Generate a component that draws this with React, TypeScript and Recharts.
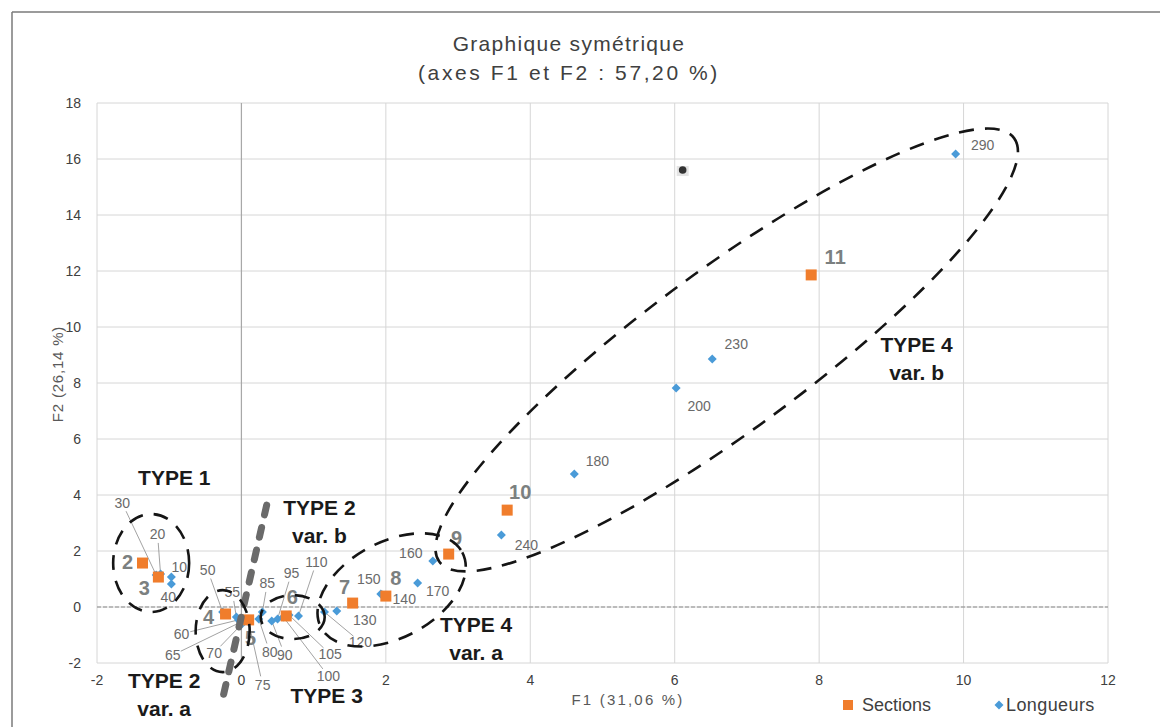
import { ScatterChart, Scatter, XAxis, YAxis, CartesianGrid, ReferenceLine } from "recharts";

// Sections (orange squares)
const sectionNames = ["2", "3", "4", "5", "6", "7", "8", "9", "10", "11"];
const sectionF1 = [-1.37, -1.15, -0.22, 0.1, 0.62, 1.54, 2.0, 2.87, 3.68, 7.89];
const sectionF2 = [1.57, 1.07, -0.25, -0.46, -0.32, 0.14, 0.39, 1.89, 3.46, 11.86];

// Longueurs (blue diamonds)
const lengthNames = [
  "10", "20", "30", "40", "50", "55", "60", "65", "70", "75", "80", "85", "90", "95",
  "100", "105", "110", "120", "130", "140", "150", "160", "170", "180", "200", "230", "240", "290",
];
const lengthF1 = [
  -0.97, -1.12, -1.18, -0.97, -0.26, -0.07, -0.04, -0.01, 0.01, 0.1, 0.24, 0.29, 0.42, 0.5,
  0.58, 0.66, 0.79, 1.15, 1.32, 1.95, 1.93, 2.65, 2.44, 4.61, 6.02, 6.52, 3.6, 9.89,
];
const lengthF2 = [
  1.07, 1.18, 1.14, 0.82, -0.18, -0.36, -0.46, -0.54, -0.6, -0.54, -0.43, -0.18, -0.5, -0.43,
  -0.36, -0.29, -0.32, -0.18, -0.14, 0.43, 0.46, 1.64, 0.86, 4.75, 7.82, 8.86, 2.57, 16.18,
];

const xTicks = [-2, 0, 2, 4, 6, 8, 10, 12];
const yTicks = [-2, 0, 2, 4, 6, 8, 10, 12, 14, 16, 18];

const sections = sectionNames.map((name, i) => ({ name, x: sectionF1[i], y: sectionF2[i] }));
const lengths = lengthNames.map((name, i) => ({ name, x: lengthF1[i], y: lengthF2[i] }));

// label placement (pixel offsets from the point), leader line flag
const sectionLabelPos: Record<string, [number, number]> = {
  "2": [-15, -1], "3": [-14, 11], "4": [-17, 3], "5": [2, 18], "6": [6, -19],
  "7": [-8, -16], "8": [10, -18], "9": [8, -16], "10": [13, -18], "11": [24, -18],
};
const lengthLabelPos: Record<string, [number, number, boolean]> = {
  "10": [8, -10, false], "20": [-3, -40, true], "30": [-34, -72, true], "40": [-3, 13, false],
  "50": [-15, -42, true], "55": [-4, -25, true], "60": [-57, 14, true], "65": [-68, 33, true],
  "70": [-28, 29, true], "75": [14, 63, true], "80": [11, 33, true], "85": [5, -29, true],
  "90": [13, 34, true], "95": [14, -46, true], "100": [45, 59, true], "105": [41, 39, true],
  "110": [18, -54, true], "120": [36, 30, true], "130": [28, 9, false], "140": [22, 4, false],
  "150": [-12, -15, false], "160": [-22, -8, false], "170": [20, 8, false], "180": [23, -13, false],
  "200": [23, 18, false], "230": [24, -15, false], "240": [25, 10, false], "290": [27, -9, false],
};

const FONT = "'Liberation Sans', Arial, sans-serif";
const ORANGE = "#F07D2C";
const BLUE = "#4A9BD8";
const W = 1160;
const H = 727;
const PLOT = { left: 97, top: 103, width: 1011, height: 560 };

const px = (x: number) => PLOT.left + ((x + 2) / 14) * PLOT.width;
const py = (y: number) => PLOT.top + ((18 - y) / 20) * PLOT.height;

function SectionShape(props: any) {
  const { cx, cy, payload } = props;
  const [dx, dy] = sectionLabelPos[payload.name] ?? [10, -10];
  return (
    <g>
      <rect x={cx - 5.5} y={cy - 5.5} width={11} height={11} fill={ORANGE} />
      <text
        x={cx + dx}
        y={cy + dy}
        textAnchor="middle"
        dominantBaseline="central"
        fontSize={20}
        fontWeight={700}
        fill="#7b8080"
        fontFamily={FONT}
      >
        {payload.name}
      </text>
    </g>
  );
}

function LengthShape(props: any) {
  const { cx, cy, payload } = props;
  const [dx, dy, leader] = lengthLabelPos[payload.name] ?? [12, -10, false];
  const lx = cx + dx;
  const ly = cy + dy;
  const d = Math.hypot(dx, dy) || 1;
  const r = 9;
  return (
    <g>
      {leader && (
        <line x1={cx} y1={cy} x2={lx - (dx / d) * r} y2={ly - (dy / d) * r} stroke="#8a8a8a" strokeWidth={0.8} />
      )}
      <path d={`M${cx},${cy - 4.5}L${cx + 4.5},${cy}L${cx},${cy + 4.5}L${cx - 4.5},${cy}Z`} fill={BLUE} />
      <text
        x={lx}
        y={ly}
        textAnchor="middle"
        dominantBaseline="central"
        fontSize={14}
        fill="#6a6a6a"
        fontFamily={FONT}
      >
        {payload.name}
      </text>
    </g>
  );
}

// hand-drawn annotation groups: centre in data units, radii/rotation in px
const groupEllipses = [
  { x: -1.25, y: 1.57, rx: 38, ry: 49, rot: 0 },
  { x: -0.26, y: -0.86, rx: 27, ry: 41, rot: 0 },
  { x: 0.71, y: -0.36, rx: 32, ry: 22, rot: 0 },
  { x: 2.08, y: 0.61, rx: 80, ry: 48, rot: -28 },
  { x: 6.72, y: 9.18, rx: 357, ry: 80, rot: -36.4 },
];

const groupLabels = [
  { x: -0.93, y: 4.61, lines: ["TYPE 1"] },
  { x: 1.08, y: 3.57, lines: ["TYPE 2", "var. b"] },
  { x: -1.07, y: -2.61, lines: ["TYPE 2", "var. a"] },
  { x: 1.18, y: -3.16, lines: ["TYPE 3"] },
  { x: 3.25, y: -0.64, lines: ["TYPE 4", "var. a"] },
  { x: 9.35, y: 9.36, lines: ["TYPE 4", "var. b"] },
];

function Overlay() {
  return (
    <svg
      width={W}
      height={H}
      style={{ position: "absolute", left: 0, top: 0, pointerEvents: "none" }}
      fontFamily={FONT}
    >
      {/* scan frame */}
      <line x1={12} y1={12} x2={W} y2={12} stroke="#7a7a7a" strokeWidth={1.5} />
      <line x1={12} y1={12} x2={12} y2={H} stroke="#7a7a7a" strokeWidth={1.5} />

      <text x={569} y={51} textAnchor="middle" fontSize={21} fill="#404040" letterSpacing={1.3}>
        Graphique symétrique
      </text>
      <text x={569} y={80} textAnchor="middle" fontSize={21} fill="#404040" letterSpacing={2.6}>
        (axes F1 et F2 : 57,20 %)
      </text>

      <text
        x={57}
        y={374}
        textAnchor="middle"
        dominantBaseline="central"
        fontSize={15}
        fill="#595959"
        letterSpacing={0.8}
        transform="rotate(-90 57 374)"
      >
        F2 (26,14 %)
      </text>
      <text x={628} y={705} textAnchor="middle" fontSize={15} fill="#595959" letterSpacing={2.2}>
        F1 (31,06 %)
      </text>

      {/* legend */}
      <rect x={843} y={700} width={10} height={10} fill={ORANGE} />
      <text x={862} y={711} fontSize={18} fill="#404040">Sections</text>
      <path d="M999,700.5L1003.5,705L999,709.5L994.5,705Z" fill={BLUE} />
      <text x={1006} y={711} fontSize={18} fill="#404040" letterSpacing={0.4}>Longueurs</text>

      {/* thick dashed separator */}
      <line
        x1={px(0.35)}
        y1={py(3.64)}
        x2={px(-0.28)}
        y2={py(-3.5)}
        stroke="#6a6a6a"
        strokeWidth={7}
        strokeLinecap="round"
        strokeDasharray="10 13"
      />

      {groupEllipses.map((e, i) => {
        const cx = px(e.x);
        const cy = py(e.y);
        return (
          <ellipse
            key={i}
            cx={cx}
            cy={cy}
            rx={e.rx}
            ry={e.ry}
            transform={`rotate(${e.rot} ${cx} ${cy})`}
            fill="none"
            stroke="#151515"
            strokeWidth={2.6}
            strokeDasharray="15 11"
          />
        );
      })}

      {/* scanner speck */}
      <rect x={px(6.11) - 6} y={py(15.57) - 5} width={12} height={10} fill="#e4e4e4" />
      <circle cx={px(6.11)} cy={py(15.57) - 1} r={3.8} fill="#333" />

      {groupLabels.map((g, i) =>
        g.lines.map((t, j) => (
          <text
            key={`${i}-${j}`}
            x={px(g.x)}
            y={py(g.y) + j * 28}
            textAnchor="middle"
            dominantBaseline="central"
            fontSize={21}
            fontWeight={700}
            fill="#1a1a1a"
          >
            {t}
          </text>
        ))
      )}
    </svg>
  );
}

export default function App() {
  return (
    <div style={{ position: "absolute", left: 0, top: 0, width: W, height: H, background: "#fff" }}>
      <ScatterChart
        width={W}
        height={H}
        margin={{ top: PLOT.top, right: W - PLOT.left - PLOT.width, bottom: H - PLOT.top - PLOT.height - 30, left: PLOT.left - 50 }}
      >
        <CartesianGrid stroke="#d6d6d6" strokeWidth={1} />
        <XAxis
          type="number"
          dataKey="x"
          domain={[-2, 12]}
          ticks={xTicks}
          height={30}
          axisLine={false}
          tickLine={false}
          tickMargin={6}
          tick={{ fontSize: 14, fill: "#404040", fontFamily: FONT }}
        />
        <YAxis
          type="number"
          dataKey="y"
          domain={[-2, 18]}
          ticks={yTicks}
          width={50}
          axisLine={false}
          tickLine={false}
          tickMargin={10}
          tick={{ fontSize: 14, fill: "#404040", fontFamily: FONT }}
        />
        <ReferenceLine x={0} stroke="#a8a8a8" strokeWidth={1.2} />
        <ReferenceLine y={0} stroke="#8c8c8c" strokeWidth={1.2} strokeDasharray="4 2" />
        <Scatter name="Longueurs" data={lengths} shape={LengthShape} isAnimationActive={false} />
        <Scatter name="Sections" data={sections} shape={SectionShape} isAnimationActive={false} />
      </ScatterChart>
      <Overlay />
    </div>
  );
}
